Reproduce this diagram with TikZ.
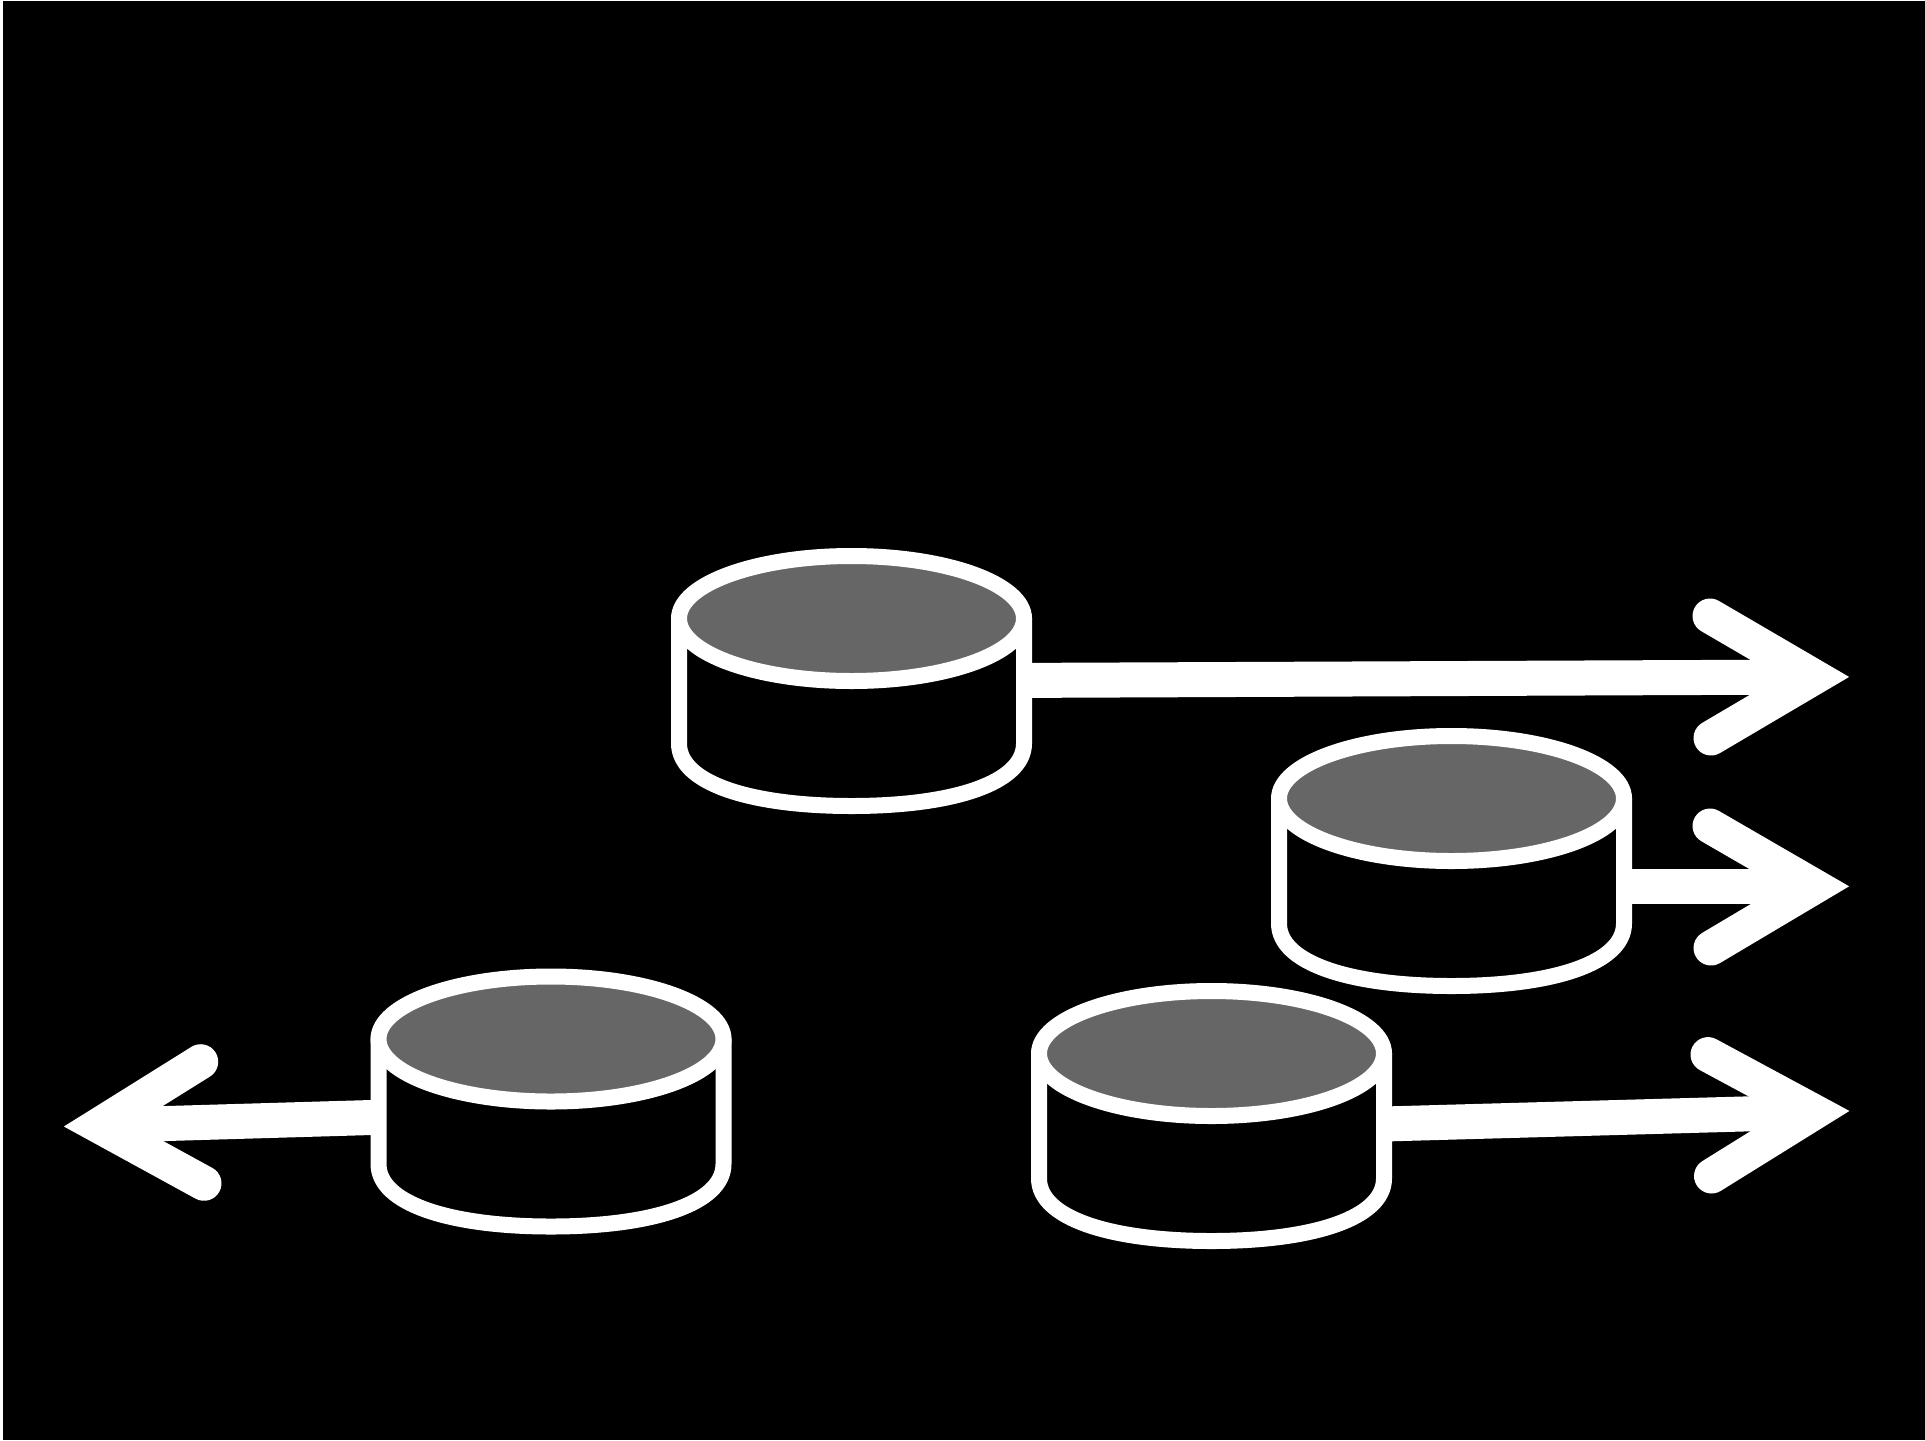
\documentclass[tikz,border=0pt]{standalone}
\usetikzlibrary{shapes.geometric}
\definecolor{topgray}{HTML}{666666}
\tikzset{
  shaft/.style={draw=white,line width=17.5pt,line cap=butt},
  barb/.style={draw=white,line width=17.5pt,line cap=round,line join=miter,miter limit=20},
  cylbody/.style={draw=white,fill=black,line width=8pt,line join=round},
  cyltop/.style={ellipse,draw=white,fill=topgray,line width=8pt,inner sep=0pt,outer sep=0pt,minimum width=172.5pt,minimum height=62.5pt}
}
\newcommand{\drum}[3]{%
  \draw[cylbody] (#2-172.5,#3) -- (#2-172.5,#3+125)
    .. controls (#2-172.5,#3+164.5) and (#2-101.5,#3+187.5) .. (#2,#3+187.5)
    .. controls (#2+101.5,#3+187.5) and (#2+172.5,#3+164.5) .. (#2+172.5,#3+125)
    -- (#2+172.5,#3) -- cycle;
  \node[cyltop] (#1) at (#2,#3) {};
}
\newcommand{\flow}[4]{% start, upper barb, vertex, lower barb
  \draw[shaft] (#1) -- (#3);
  \draw[barb] (#2) -- (#3) -- (#4);
}
\begin{document}
\begin{tikzpicture}[x=0.5pt,y=-0.5pt]
\useasboundingbox (0,0) rectangle (1925,1440);
\fill[white] (0,0) rectangle (1925,1440);
\fill[black] (3,1) rectangle (1925,1440);
% arrow coordinates
\coordinate (s1) at (1024,680.4);
\coordinate (a1) at (1710,616);
\coordinate (v1) at (1814.5,677);
\coordinate (b1) at (1711,738);
\coordinate (s2) at (1624,886.5);
\coordinate (a2) at (1710,826);
\coordinate (v2) at (1814.5,886.5);
\coordinate (b2) at (1711,948);
\coordinate (s3) at (378,1117.3);
\coordinate (a3) at (200.7,1061.7);
\coordinate (v3) at (98.5,1125.5);
\coordinate (b3) at (204,1183.3);
\coordinate (s4) at (1384,1124);
\coordinate (a4) at (1708,1054.6);
\coordinate (v4) at (1814.5,1112);
\coordinate (b4) at (1711.5,1176);
\flow{s1}{a1}{v1}{b1}
\flow{s2}{a2}{v2}{b2}
\flow{s3}{a3}{v3}{b3}
\flow{s4}{a4}{v4}{b4}
\drum{c1}{851.5}{618.5}
\drum{c2}{1451.5}{798.5}
\drum{c3}{551}{1039}
\drum{c4}{1211.5}{1053.5}
\end{tikzpicture}
\end{document}
